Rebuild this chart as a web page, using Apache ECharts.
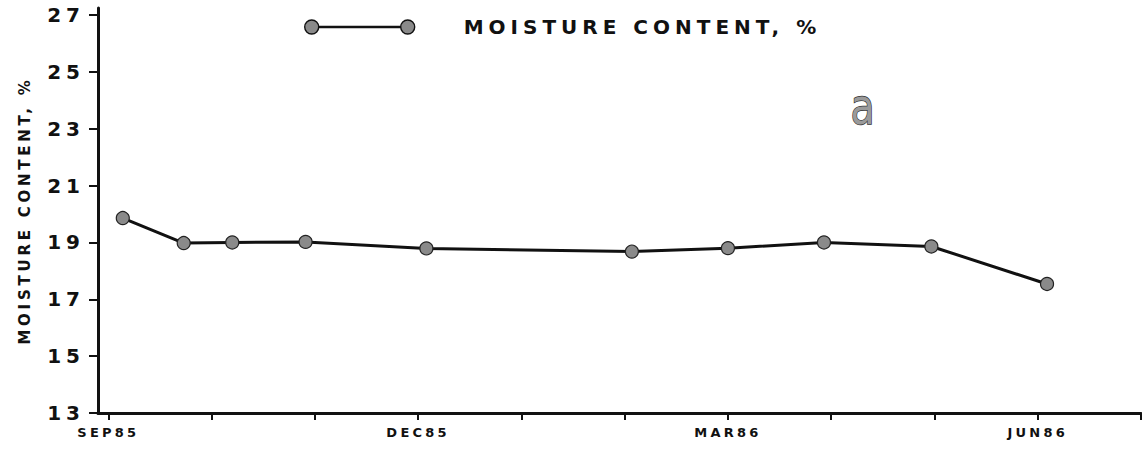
<!DOCTYPE html>
<html>
<head>
<meta charset="utf-8">
<script src="https://cdn.jsdelivr.net/npm/echarts@6/dist/echarts.min.js"></script>
<style>
  html, body { margin: 0; padding: 0; background: #fff; }
  #chart { width: 1142px; height: 451px; }
  /* the plotter lettering in the original is widely spaced */
  #chart svg text { letter-spacing: 0.25em; }
</style>
</head>
<body>
<div id="chart"></div>
<script>
// months after 1 Sep 1985
const months = [0.14, 0.73, 1.2, 1.91, 3.08, 5.07, 6.0, 6.93, 7.97, 9.09];
const moisture = [19.86, 18.98, 19.0, 19.02, 18.79, 18.68, 18.8, 19.0, 18.86, 17.54];

const monthTicks = [0, 1, 2, 3, 4, 5, 6, 7, 8, 9, 10];
const monthLabelAt = [0, 3, 6, 9];
const monthLabels = ['SEP85', 'DEC85', 'MAR86', 'JUN86'];
const yTicks = [13, 15, 17, 19, 21, 23, 25, 27];

const font = 'DejaVu Sans';
const ink = '#111';

const chart = echarts.init(document.getElementById('chart'), null, { renderer: 'svg' });

chart.setOption({
  animation: false,
  backgroundColor: '#fff',
  grid: { left: 98, right: 1, top: 8, bottom: 38 },
  legend: {
    left: 299,
    top: 12,
    itemWidth: 110,
    itemHeight: 15,
    icon: 'path://M7 0A7 7 0 1 0 7 14A7 7 0 1 0 7 0ZM14 6.5L96 6.5L96 7.5L14 7.5ZM103 0A7 7 0 1 0 103 14A7 7 0 1 0 103 0Z',
    itemStyle: { color: '#8a8a8a', borderColor: '#111', borderWidth: 1.4 },
    textStyle: {
      fontFamily: font, fontWeight: 'bold', fontSize: 20, color: ink,
      padding: [0, 0, 0, 44]
    },
    data: ['MOISTURE CONTENT, %']
  },
  xAxis: {
    type: 'value',
    min: -0.1,
    max: 10,
    splitLine: { show: false },
    axisLine: { lineStyle: { color: ink, width: 3 } },
    axisTick: {
      customValues: monthTicks,
      length: 7,
      lineStyle: { color: ink, width: 2 }
    },
    axisLabel: {
      customValues: monthLabelAt,
      margin: 13,
      fontFamily: font, fontWeight: 'bold', fontSize: 13, color: ink,
      formatter: v => monthLabels[monthLabelAt.indexOf(Math.round(v))] || ''
    }
  },
  yAxis: {
    type: 'value',
    min: 13,
    max: 27.25,
    splitLine: { show: false },
    axisLine: { onZero: false, lineStyle: { color: ink, width: 3 } },
    axisTick: {
      customValues: yTicks,
      length: 9,
      lineStyle: { color: ink, width: 2 }
    },
    axisLabel: {
      customValues: yTicks,
      margin: 13,
      fontFamily: font, fontWeight: 'bold', fontSize: 20, color: ink
    },
    name: 'MOISTURE CONTENT, %',
    nameLocation: 'middle',
    nameRotate: 90,
    nameGap: 66,
    nameTextStyle: { fontFamily: font, fontWeight: 'bold', fontSize: 15, color: ink }
  },
  graphic: [{
    type: 'text',
    left: 850,
    top: 80,
    scaleY: 1.15,
    style: {
      text: 'a',
      font: '44px "Liberation Sans Narrow", "DejaVu Sans Condensed", sans-serif',
      fill: '#9a9a9a',
      stroke: '#333',
      lineWidth: 1.2
    }
  }],
  series: [{
    name: 'MOISTURE CONTENT, %',
    type: 'line',
    data: months.map((m, i) => [m, moisture[i]]),
    symbol: 'circle',
    symbolSize: 13,
    lineStyle: { color: ink, width: 3 },
    itemStyle: { color: '#8a8a8a', borderColor: '#222', borderWidth: 1.2 }
  }]
});
</script>
</body>
</html>
